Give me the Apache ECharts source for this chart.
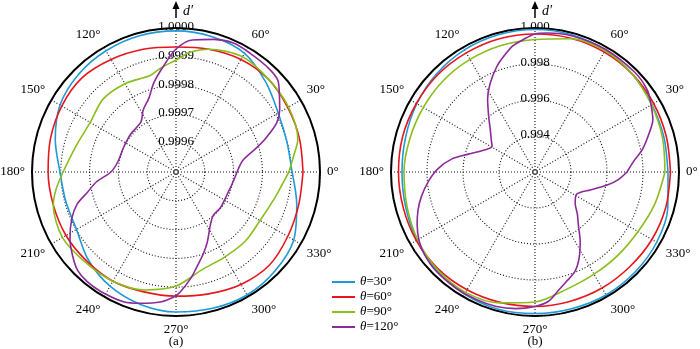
<!DOCTYPE html>
<html><head><meta charset="utf-8">
<script src="https://cdn.jsdelivr.net/npm/echarts@6/dist/echarts.min.js"></script>
<style>html,body{margin:0;padding:0;background:#fff}#c{width:700px;height:349px}</style>
</head><body><div id="c"></div>
<script>
// ---------- data ----------
const seriesNames = ['θ=30°', 'θ=60°', 'θ=90°', 'θ=120°'];
const ANG15 = [0,15,30,45,60,75,90,105,120,135,150,165,180,195,210,225,240,255,270,285,300,315,330,345,360];

// (a) radial scale
const aRadius = { min: 0.9995, max: 1.0000, step: 0.0001, digits: 4 };
const aBlue = [0.999903,0.999899,0.999910,0.999941,0.999976,0.999986,0.999990,0.999990,0.999986,0.999979,0.999965,0.999934,0.999903,0.999896,0.999899,0.999931,0.999958,0.999976,0.999986,0.999990,0.999993,0.999986,0.999972,0.999934,0.999903];
const aRed = [0.999941,0.999944,0.999948,0.999955,0.999951,0.999941,0.999934,0.999941,0.999951,0.999962,0.999958,0.999951,0.999944,0.999941,0.999941,0.999938,0.999938,0.999931,0.999931,0.999938,0.999951,0.999958,0.999948,0.999941,0.999941];
const aGreenAng = [0,8,15,30,45,60,75,83,90,99,105,120,135,150,165,180,188,195,210,225,240,255,270,285,300,315,330,345,352,360];
const aGreen = [0.999892,0.999913,0.999938,0.999951,0.999955,0.999962,0.999941,0.999920,0.999889,0.999863,0.999847,0.999854,0.999858,0.999844,0.999858,0.999892,0.999920,0.999941,0.999955,0.999944,0.999938,0.999924,0.999896,0.999851,0.999840,0.999840,0.999837,0.999854,0.999868,0.999892];
const aPurpleAng = [0,10,17,21,26,31,36,42,49,58,66,74,83,90,97,104,110,118,125,140,155,170,180,187,193,198,204,212,219,225,231,238,248,255,263,269,272,278,282,288,294,303,311,321,336,350,360];
const aPurple = [0.999712,0.999736,0.999795,0.999837,0.999889,0.999920,0.999944,0.999976,0.999983,0.999986,0.999990,0.999979,0.999962,0.999927,0.999868,0.999819,0.999774,0.999743,0.999712,0.999705,0.999701,0.999705,0.999726,0.999778,0.999816,0.999861,0.999896,0.999934,0.999962,0.999983,0.999990,0.999990,0.999986,0.999972,0.999955,0.999934,0.999917,0.999872,0.999840,0.999802,0.999767,0.999719,0.999698,0.999698,0.999694,0.999701,0.999712];

// (b) radial scale
const bRadius = { min: 0.992, max: 1.000, step: 0.002, digits: 3 };
const bBlue = [0.999389,0.999417,0.999500,0.999667,0.999806,0.999889,0.999917,0.999889,0.999833,0.999722,0.999583,0.999444,0.999389,0.999444,0.999583,0.999722,0.999833,0.999889,0.999861,0.999861,0.999889,0.999861,0.999806,0.999639,0.999389];
const bRed = [0.999528,0.999556,0.999611,0.999667,0.999694,0.999694,0.999667,0.999667,0.999639,0.999639,0.999611,0.999611,0.999583,0.999583,0.999611,0.999611,0.999556,0.999500,0.999472,0.999444,0.999444,0.999444,0.999500,0.999528,0.999528];
const bGreen = [0.999222,0.999333,0.999472,0.999667,0.999778,0.999667,0.999361,0.999278,0.999222,0.999194,0.999167,0.999194,0.999278,0.999361,0.999528,0.999667,0.999722,0.999528,0.999222,0.998750,0.998556,0.998528,0.998611,0.998889,0.999222];
const bPurpleAng = [0,6,12,19,24,30,36,45,60,75,85,90,95,100,105,110,117,123,130,137,144,149,156,165,171,178,185,192,198,204,211,217,225,236,245,254,262,270,276,281,286,292,297,303,309,315,322,331,336,342,350,355,360];
const bPurple = [0.997111,0.997500,0.998111,0.998722,0.999167,0.999444,0.999722,0.999833,0.999861,0.999833,0.999750,0.999667,0.999389,0.999111,0.998667,0.998222,0.997500,0.996833,0.996000,0.995389,0.995000,0.994778,0.995028,0.995833,0.996667,0.997389,0.997944,0.998444,0.998833,0.999167,0.999500,0.999667,0.999778,0.999806,0.999806,0.999778,0.999667,0.999472,0.999222,0.998722,0.998333,0.997944,0.997389,0.996611,0.995833,0.995333,0.994833,0.994611,0.994778,0.995222,0.996111,0.996667,0.997111];

// ---------- style ----------
const FONT = '"Liberation Serif", "Times New Roman", serif';
const COLORS = ['#1f9ad8', '#e8161c', '#8bbd1d', '#8b2b97'];
const CENTERS = [[176, 172], [535, 172]];
const R = 144;

function pairs(vals, angs) { return vals.map((v, i) => [v, angs[i]]); }

const chart = echarts.init(document.getElementById('c'), null, { renderer: 'canvas' });

const polar = [
  { center: CENTERS[0], radius: R },
  { center: CENTERS[1], radius: R },
  { center: CENTERS[0], radius: R },
  { center: CENTERS[1], radius: R }
];
const scales = [aRadius, bRadius];
const gridLine = { color: '#111', type: [1, 2], width: 1.1 };

const angleAxis = [];
const radiusAxis = [];
for (let i = 0; i < 2; i++) {
  const s = scales[i];
  angleAxis.push({
    polarIndex: i, type: 'value', min: 0, max: 360, interval: 30,
    startAngle: 0, clockwise: false,
    axisLine: { show: true, lineStyle: { color: '#000', width: 2 } },
    axisTick: { show: false },
    axisLabel: { margin: 7, fontFamily: FONT, fontSize: 13, color: '#000',
      formatter: v => (v === 90 || v === 360) ? '' : v + '°' },
    splitLine: { show: true, lineStyle: gridLine }
  });
  radiusAxis.push({
    polarIndex: i, type: 'value', min: s.min, max: s.max, interval: s.step,
    axisLine: { show: false }, axisTick: { show: false }, axisLabel: { show: false },
    splitLine: { show: true, lineStyle: gridLine }
  });
}
for (let i = 0; i < 2; i++) {
  const s = scales[i];
  angleAxis.push({
    polarIndex: i + 2, type: 'value', min: 0, max: 360, startAngle: 90, clockwise: false,
    axisLine: { show: false }, axisTick: { show: false }, axisLabel: { show: false },
    splitLine: { show: false }
  });
  radiusAxis.push({
    polarIndex: i + 2, type: 'value', min: s.min, max: s.max, interval: s.step,
    axisLine: { show: false }, axisTick: { show: false }, splitLine: { show: false },
    axisLabel: {
      show: true, margin: 0, align: 'center', verticalAlign: 'bottom',
      fontFamily: FONT, fontSize: 13, color: '#000', padding: [0, 0, -5, 0],
      formatter: v => (Math.abs(v - s.min) < s.step / 10) ? '' : Number(v).toFixed(s.digits)
    }
  });
}

const dataSets = [
  [pairs(aBlue, ANG15), pairs(aRed, ANG15), pairs(aGreen, aGreenAng), pairs(aPurple, aPurpleAng)],
  [pairs(bBlue, ANG15), pairs(bRed, ANG15), pairs(bGreen, ANG15), pairs(bPurple, bPurpleAng)]
];

const series = [];
for (let p = 0; p < 2; p++) {
  for (let k = 0; k < 4; k++) {
    series.push({
      type: 'line', coordinateSystem: 'polar', polarIndex: p, name: seriesNames[k],
      data: dataSets[p][k], showSymbol: false, smooth: 0.3, silent: true,
      lineStyle: { width: 1.6, color: COLORS[k] }, itemStyle: { color: COLORS[k] }, z: 3
    });
  }
  series.push({
    type: 'scatter', coordinateSystem: 'polar', polarIndex: p,
    data: [[scales[p].min, 0]], symbol: 'circle', symbolSize: 4, silent: true,
    itemStyle: { color: '#fff', borderColor: '#333', borderWidth: 1 }, z: 4
  });
}

const graphic = [];
[['(a)', CENTERS[0][0]], ['(b)', CENTERS[1][0]]].forEach(([t, x]) => {
  graphic.push({ type: 'text', x: x, y: 342, style: { text: t, align: 'center', verticalAlign: 'middle', font: '13px ' + FONT, fill: '#000' } });
  graphic.push({ type: 'line', shape: { x1: x, y1: 18, x2: x, y2: 8 }, style: { stroke: '#000', lineWidth: 1.5 } });
  graphic.push({ type: 'polygon', shape: { points: [[x, 1], [x - 3.5, 9], [x + 3.5, 9]] }, style: { fill: '#000' } });
  graphic.push({ type: 'text', x: x + 7, y: 11, style: { text: 'd′', align: 'left', verticalAlign: 'middle', font: 'italic 14px ' + FONT, fill: '#000' } });
});

chart.setOption({
  backgroundColor: '#fff',
  animation: false,
  color: COLORS,
  polar, angleAxis, radiusAxis, series, graphic,
  legend: {
    orient: 'vertical', left: 327, top: 270, itemWidth: 23, itemHeight: 2, icon: 'rect',
    itemGap: 1, data: seriesNames, selectedMode: false,
    textStyle: { fontFamily: FONT, fontSize: 13, color: '#000', lineHeight: 14,
      rich: { i: { fontFamily: FONT, fontSize: 13, fontStyle: 'italic', color: '#000' } } },
    formatter: name => '{i|θ}' + name.slice(1)
  }
});
</script></body></html>
